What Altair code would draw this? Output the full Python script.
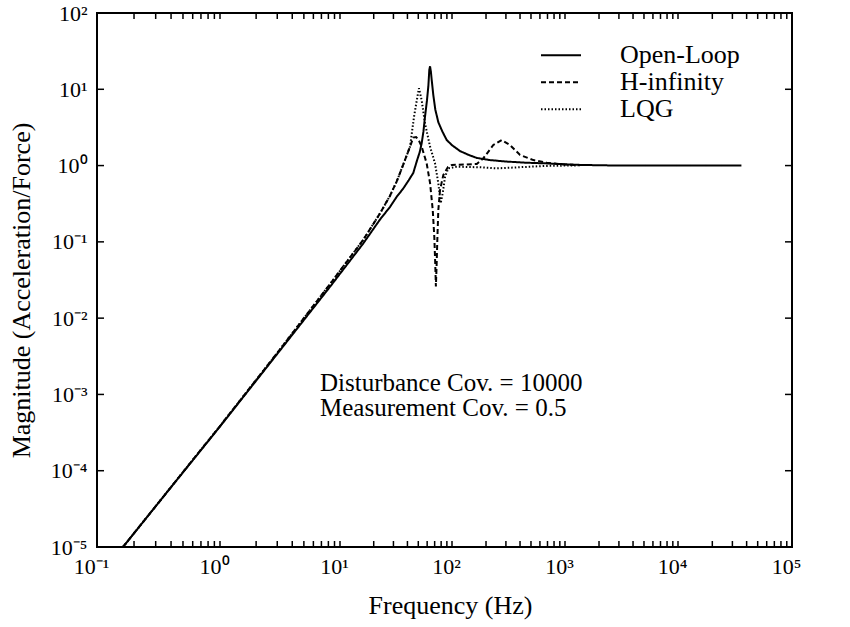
import altair as alt
import pandas as pd

# ---------------- data ----------------
series_names = ["Open-Loop", "H-infinity", "LQG"]

ol_freq = [0.1626, 0.5, 1, 3, 8.26, 16.1, 22.8, 27.9, 32.1, 36.7, 41.0, 45.1, 49.0, 51.5,
           53.6, 55.6, 57.4, 59.8, 61.5, 62.7, 63.7, 64.8, 65.9, 68.1, 71.0, 75.5, 82.0,
           89.7, 100, 117.8, 140, 165.6, 216.8, 300, 450, 665, 1000, 1360, 3000, 10000,
           36000]
ol_mag = [1.0e-5, 9.5e-5, 3.8e-4, 3.4e-3, 0.0258, 0.095, 0.197, 0.286, 0.39, 0.50, 0.64,
          0.80, 1.2, 1.5, 1.96, 2.8, 4.37, 7.2, 11.0, 17.9, 20.0, 17.0, 13.2, 8.4, 5.4,
          3.7, 2.8, 2.16, 1.85, 1.55, 1.38, 1.26, 1.18, 1.13, 1.09, 1.07, 1.04, 1.02, 1.0,
          1.0, 1.0]

hinf_freq = [0.1626, 0.5, 1, 3, 8.26, 16.1, 22.8, 27.9, 32.1, 36.7, 42.2, 45.1, 47.8, 50.5,
             53.6, 59.4, 63.7, 67.3, 69.5, 70.9, 71.8, 72.9, 74.0, 75.5, 78.2, 83.7, 92.1,
             100, 130, 165.6, 189, 232, 275, 326, 400, 525, 689, 1000, 1360]
hinf_mag = [1.0e-5, 9.6e-5, 3.85e-4, 3.5e-3, 0.028, 0.106, 0.237, 0.40, 0.62, 1.03, 1.77,
            2.33, 2.37, 2.15, 1.77, 1.07, 0.59, 0.262, 0.117, 0.05, 0.026, 0.05, 0.11,
            0.262, 0.479, 0.753, 0.957, 1.02, 1.03, 1.05, 1.24, 1.86, 2.16, 1.86, 1.38,
            1.18, 1.09, 1.03, 1.01]

lqg_freq = [0.1626, 0.5, 1, 3, 8.26, 16.1, 22.8, 27.9, 32.1, 36.7, 42.2, 45.8, 49.1, 50.7,
            53.6, 57.4, 63.7, 70.5, 75.5, 79.2, 82.6, 86.7, 92.7, 110, 177, 249, 490, 689,
            1000, 1300]
lqg_mag = [1.0e-5, 9.6e-5, 3.85e-4, 3.5e-3, 0.028, 0.106, 0.237, 0.40, 0.62, 1.03, 1.77,
           4.37, 8.0, 10.3, 7.2, 3.58, 1.77, 1.07, 0.586, 0.32, 0.433, 0.715, 0.92, 0.966,
           0.95, 0.92, 0.966, 0.99, 1.0, 1.0]

x_decades = [0.1, 1, 10, 100, 1000, 10000, 100000]
y_decades = [1e-5, 1e-4, 1e-3, 1e-2, 1e-1, 1, 10, 100]
x_minor = [d * k for k in [0.1, 1, 10, 100, 1000, 10000] for d in range(2, 10)]

annotation = "Disturbance Cov. = 10000\nMeasurement Cov. = 0.5"

# ---------------- tables ----------------
frames = []
for name, f, m in [("Open-Loop", ol_freq, ol_mag),
                   ("H-infinity", hinf_freq, hinf_mag),
                   ("LQG", lqg_freq, lqg_mag)]:
    frames.append(pd.DataFrame({"freq": f, "mag": m, "series": name}))
df = pd.concat(frames, ignore_index=True)

xticks_df = pd.DataFrame({"freq": sorted(x_decades + x_minor)})
yticks_df = pd.DataFrame({"mag": y_decades})

W, H = 695, 534
FONT = "Liberation Serif"
TICK_X, TICK_Y = 6, 7

xscale = alt.Scale(type="log", domain=x_decades,
                   range=[0, 123, 243, 355, 468, 581, 695], nice=False)
yscale = alt.Scale(type="log", domain=[1e-5, 100], nice=False)

x_lab = ("'10' + ['\u207b\u00b9','\u2070','\u00b9','\u00b2','\u00b3','\u2074','\u2075']"
         "[round(log(datum.value)/LN10)+1]")
y_lab = ("'10' + ['\u207b\u2075','\u207b\u2074','\u207b\u00b3','\u207b\u00b2','\u207b\u00b9',"
         "'\u2070','\u00b9','\u00b2'][round(log(datum.value)/LN10)+5]")

x_axis = alt.Axis(
    orient="bottom", values=x_decades, labelExpr=x_lab, ticks=False, domain=False,
    grid=False, labelPadding=9, labelFontSize=22, labelFont=FONT, labelColor="black",
    labelFlush=False, labelOverlap=False, labelOffset=-6,
    title="Frequency (Hz)", titleFont=FONT, titleFontSize=26, titleFontWeight="normal",
    titleColor="black", titleX=353, titleY=66, titleAlign="center",
    titleBaseline="alphabetic")
y_axis = alt.Axis(
    orient="left", values=y_decades, labelExpr=y_lab, ticks=False, domain=False,
    grid=False, labelPadding=10, labelFontSize=22, labelFont=FONT, labelColor="black",
    labelFlush=False, labelOverlap=False,
    title="Magnitude (Acceleration/Force)", titleFont=FONT, titleFontSize=26,
    titleFontWeight="normal", titleColor="black", titleX=-68, titleY=277,
    titleAngle=270, titleAlign="center", titleBaseline="alphabetic")

x_enc = alt.X("freq:Q", scale=xscale, axis=x_axis)
y_enc = alt.Y("mag:Q", scale=yscale, axis=y_axis)

lines = alt.Chart(df).mark_line(color="black").encode(
    x=x_enc,
    y=y_enc,
    strokeDash=alt.StrokeDash("series:N", scale=alt.Scale(
        domain=series_names, range=[[1, 0], [5, 3], [1.5, 2]]),
        legend=alt.Legend(orient="none", legendX=443, legendY=29, title=None,
                          symbolType="stroke", symbolSize=1600, symbolStrokeWidth=2,
                          symbolStrokeColor="black", labelFont=FONT, labelFontSize=26,
                          labelColor="black", labelOffset=38, rowPadding=0, padding=0,
                          clipHeight=26.5, labelBaseline="middle")),
    strokeWidth=alt.StrokeWidth("series:N", scale=alt.Scale(
        domain=series_names, range=[2, 2, 1.5]), legend=None),
)

# inward ticks on all four sides, placed by the shared scales
tick_style = dict(color="black", strokeWidth=1.5)
ticks_bottom = alt.Chart(xticks_df).mark_rule(**tick_style).encode(
    x=x_enc, y=alt.value(H), y2=alt.value(H - TICK_X))
ticks_top = alt.Chart(xticks_df).mark_rule(**tick_style).encode(
    x=x_enc, y=alt.value(0), y2=alt.value(TICK_X))
ticks_left = alt.Chart(yticks_df).mark_rule(**tick_style).encode(
    y=y_enc, x=alt.value(0), x2=alt.value(TICK_Y))
ticks_right = alt.Chart(yticks_df).mark_rule(**tick_style).encode(
    y=y_enc, x=alt.value(W), x2=alt.value(W - TICK_Y))

note = alt.Chart(pd.DataFrame({"t": [annotation]})).mark_text(
    align="left", baseline="alphabetic", font=FONT, fontSize=25, color="black",
    lineBreak="\n", lineHeight=25,
).encode(x=alt.value(223), y=alt.value(378), text="t:N")

chart = alt.layer(
    lines, ticks_bottom, ticks_top, ticks_left, ticks_right, note
).properties(
    width=W, height=H,
    padding={"left": 97, "top": 13, "right": 58, "bottom": 80},
    autosize=alt.AutoSizeParams(type="none"),
    background="white",
).configure_view(stroke="black", strokeWidth=2)

chart.save("out.html", embed_options={"renderer": "svg", "actions": False})
